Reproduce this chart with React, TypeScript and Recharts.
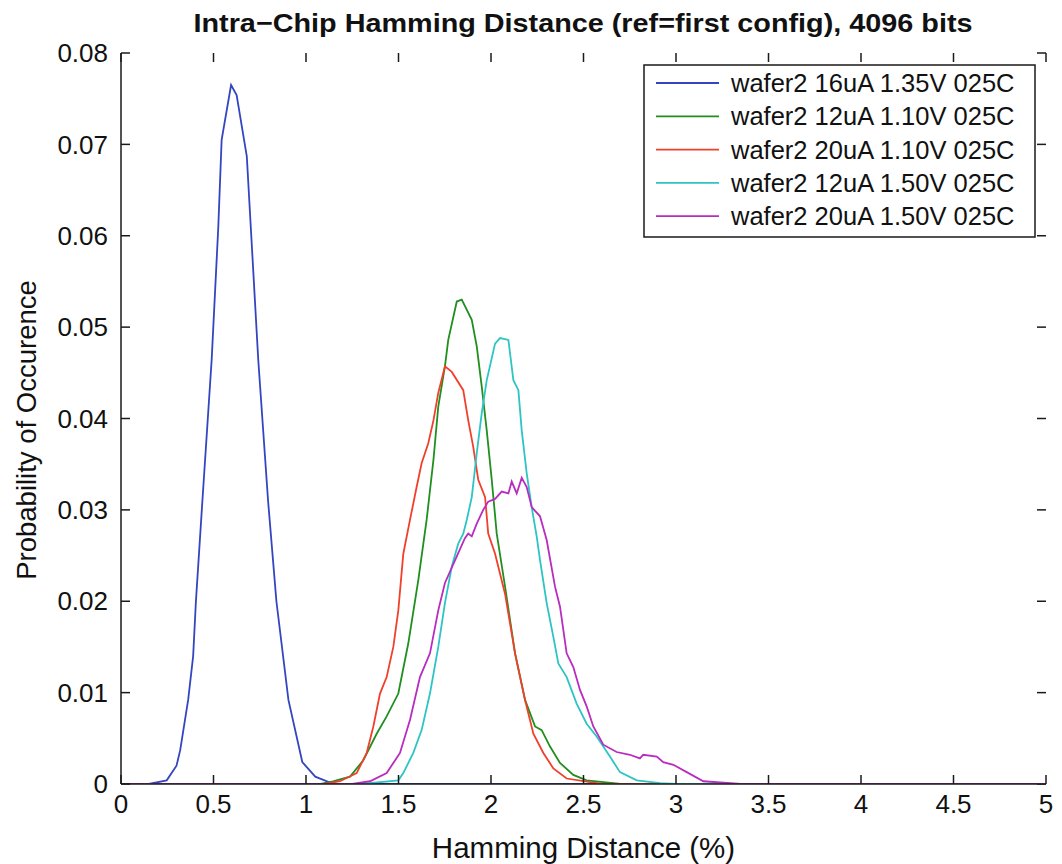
import React from "react";
import { LineChart, Line, XAxis, YAxis, Legend, ReferenceLine } from "recharts";

type P = { x: number; y: number };
const pts = (a: number[][]): P[] => a.map(([x, y]) => ({ x, y }));

const xTicks = [0, 0.5, 1, 1.5, 2, 2.5, 3, 3.5, 4, 4.5, 5];
const yTicks = [0, 0.01, 0.02, 0.03, 0.04, 0.05, 0.06, 0.07, 0.08];
const xDomain = [0, 5];
const yDomain = [0, 0.08];

const seriesNames = [
  "wafer2 16uA 1.35V 025C",
  "wafer2 12uA 1.10V 025C",
  "wafer2 20uA 1.10V 025C",
  "wafer2 12uA 1.50V 025C",
  "wafer2 20uA 1.50V 025C",
];
const seriesColors = ["#3346c0", "#1f8f1f", "#f0402c", "#2ec4c4", "#b82cc0"];

const blue16uA135 = pts([
  [0, 0], [0.15, 0], [0.247, 0.0004], [0.3, 0.002], [0.32, 0.0037], [0.363, 0.0092],
  [0.39, 0.014], [0.405, 0.02], [0.44, 0.031], [0.49, 0.0464], [0.526, 0.061],
  [0.544, 0.0705], [0.595, 0.0765], [0.625, 0.0754], [0.68, 0.0687], [0.742, 0.0464],
  [0.795, 0.031], [0.84, 0.02], [0.905, 0.0092], [0.98, 0.0024], [1.05, 0.0008],
  [1.15, 0], [5, 0],
]);

const green12uA110 = pts([
  [0, 0], [1.08, 0], [1.146, 0.0003], [1.238, 0.0008], [1.31, 0.0026], [1.382, 0.0055],
  [1.436, 0.0074], [1.499, 0.0099], [1.553, 0.0154], [1.607, 0.0223], [1.652, 0.0289],
  [1.689, 0.0355], [1.715, 0.0413], [1.751, 0.0457], [1.769, 0.0486], [1.815, 0.0528],
  [1.842, 0.053], [1.896, 0.0508], [1.923, 0.0479], [1.95, 0.0435], [1.977, 0.0387],
  [2.004, 0.0333], [2.031, 0.0274], [2.076, 0.0216], [2.13, 0.0143], [2.184, 0.0092],
  [2.238, 0.0063], [2.274, 0.0059], [2.319, 0.0041], [2.373, 0.0023], [2.445, 0.001],
  [2.517, 0.0004], [2.7, 0], [5, 0],
]);

const red20uA110 = pts([
  [0, 0], [1.1, 0], [1.184, 0.0003], [1.274, 0.0012], [1.328, 0.0034], [1.364, 0.0063],
  [1.4, 0.0099], [1.436, 0.0117], [1.472, 0.015], [1.499, 0.019], [1.526, 0.0252],
  [1.562, 0.0289], [1.598, 0.0325], [1.625, 0.0351], [1.661, 0.0373], [1.689, 0.0398],
  [1.715, 0.0428], [1.751, 0.0457], [1.788, 0.0451], [1.85, 0.0431], [1.877, 0.0398],
  [1.904, 0.0369], [1.931, 0.0333], [1.968, 0.0314], [1.985, 0.0274], [2.022, 0.0252],
  [2.076, 0.0208], [2.13, 0.0143], [2.184, 0.0092], [2.229, 0.0055], [2.283, 0.0034],
  [2.337, 0.0017], [2.409, 0.0006], [2.6, 0], [5, 0],
]);

const cyan12uA150 = pts([
  [0, 0], [1.3, 0], [1.499, 0.0004], [1.526, 0.0012], [1.58, 0.0034], [1.625, 0.0059],
  [1.67, 0.0099], [1.715, 0.015], [1.751, 0.0198], [1.788, 0.0238], [1.823, 0.0263],
  [1.85, 0.0274], [1.869, 0.0289], [1.896, 0.0314], [1.923, 0.0362], [1.95, 0.0406],
  [1.977, 0.0442], [2.022, 0.0482], [2.049, 0.0488], [2.094, 0.0486], [2.121, 0.0442],
  [2.148, 0.0431], [2.166, 0.0387], [2.193, 0.034], [2.22, 0.0303], [2.247, 0.0271],
  [2.265, 0.0245], [2.301, 0.0198], [2.337, 0.0161], [2.364, 0.0132], [2.409, 0.0117],
  [2.463, 0.0088], [2.517, 0.0066], [2.571, 0.0052], [2.643, 0.003], [2.697, 0.0013],
  [2.788, 0.0004], [2.914, 0.0001], [3.0, 0], [5, 0],
]);

const magenta20uA150 = pts([
  [0, 0], [1.25, 0], [1.346, 0.0003], [1.436, 0.0012], [1.508, 0.0034], [1.562, 0.007],
  [1.616, 0.0117], [1.67, 0.0143], [1.715, 0.019], [1.751, 0.022], [1.815, 0.0249],
  [1.859, 0.0269], [1.877, 0.0274], [1.896, 0.0271], [1.923, 0.0285], [1.958, 0.03],
  [1.985, 0.0309], [2.022, 0.0312], [2.058, 0.032], [2.094, 0.0318], [2.112, 0.0331],
  [2.139, 0.0318], [2.166, 0.0335], [2.193, 0.0325], [2.22, 0.0303], [2.265, 0.0293],
  [2.301, 0.0267], [2.346, 0.0216], [2.373, 0.0194], [2.409, 0.0143], [2.445, 0.0128],
  [2.481, 0.0103], [2.517, 0.0085], [2.553, 0.0063], [2.607, 0.0043], [2.679, 0.0035],
  [2.751, 0.0032], [2.805, 0.0028], [2.823, 0.0032], [2.896, 0.003], [2.931, 0.0024],
  [2.986, 0.0021], [3.058, 0.0013], [3.148, 0.0003], [3.35, 0], [5, 0],
]);

const seriesData = [blue16uA135, green12uA110, red20uA110, cyan12uA150, magenta20uA150];

const FONT = "'Liberation Sans', Arial, Helvetica, sans-serif";
const AXIS = "#1a1a1a";
const TICK_FS = 26;
const TICK_PX = 9;
// chart geometry
const W = 1062;
const H = 864;
const M = { top: 53, right: 16, bottom: 6, left: 21 };
const Y_AXIS_W = 100;
const X_AXIS_H = 74;
const PLOT_L = M.left + Y_AXIS_W;
const PLOT_R = W - M.right;
const PLOT_T = M.top;
const PLOT_B = H - M.bottom - X_AXIS_H;
// inward tick-mark length, as a fraction of each axis span
const TICK_FRAC_X = TICK_PX / (PLOT_R - PLOT_L);
const TICK_FRAC_Y = TICK_PX / (PLOT_B - PLOT_T);

const renderLegend = () => (
  <svg width={393} height={174} style={{ display: "block" }}>
    <rect x={1} y={1} width={391} height={172} fill="#fff" stroke={AXIS} strokeWidth={1.5} />
    {seriesNames.map((n, i) => {
      const cy = 19 + i * 33.3;
      return (
        <g key={n}>
          <line x1={13} x2={76} y1={cy} y2={cy} stroke={seriesColors[i]} strokeWidth={1.8} />
          <text x={88} y={cy} dy="0.35em" fontFamily={FONT} fontSize={25.5} fill="#111">
            {n}
          </text>
        </g>
      );
    })}
  </svg>
);

export default function App() {
  const xs = xDomain[1] - xDomain[0];
  const ys = yDomain[1] - yDomain[0];
  const tx = xs * TICK_FRAC_X;
  const ty = ys * TICK_FRAC_Y;
  const sx = (v: number) => PLOT_L + ((v - xDomain[0]) / xs) * (PLOT_R - PLOT_L);
  const sy = (v: number) => PLOT_B - ((v - yDomain[0]) / ys) * (PLOT_B - PLOT_T);

  const marks: React.ReactNode[] = [];
  xTicks.forEach((t) => {
    marks.push(
      <ReferenceLine key={`xt${t}`} xAxisId="b" yAxisId="l" ifOverflow="visible"
        segment={[{ x: t, y: yDomain[1] }, { x: t, y: yDomain[1] - ty }]}
        stroke={AXIS} strokeWidth={1.5} />
    );
  });
  yTicks.forEach((t) => {
    marks.push(
      <ReferenceLine key={`yr${t}`} xAxisId="b" yAxisId="l" ifOverflow="visible"
        segment={[{ x: xDomain[1], y: t }, { x: xDomain[1] - tx, y: t }]}
        stroke={AXIS} strokeWidth={1.5} />
    );
  });

  return (
    <div style={{ position: "absolute", left: 0, top: 0, width: W, height: H, background: "#fff" }}>
      <LineChart width={W} height={H} margin={M} style={{ fontFamily: FONT }}>
        <XAxis
          xAxisId="b"
          type="number"
          dataKey="x"
          domain={xDomain}
          ticks={xTicks}
          allowDataOverflow
          height={X_AXIS_H}
          stroke={AXIS}
          strokeWidth={1.5}
          tickLine={false}
          tickSize={0}
          tickMargin={11}
          interval={0}
          tick={{ fontSize: TICK_FS, fill: "#111", fontFamily: FONT }}
          label={{ value: "Hamming Distance (%)", position: "insideBottom", offset: 0, fontSize: 29.5, fill: "#111", fontFamily: FONT }}
        />
        <XAxis
          xAxisId="t"
          orientation="top"
          type="number"
          dataKey="x"
          domain={xDomain}
          ticks={xTicks}
          allowDataOverflow
          height={0}
          stroke={AXIS}
          strokeWidth={1.5}
          tickLine={false}
          tick={false}
        />
        <YAxis
          yAxisId="l"
          type="number"
          domain={yDomain}
          ticks={yTicks}
          allowDataOverflow
          width={Y_AXIS_W}
          stroke={AXIS}
          strokeWidth={1.5}
          tickLine={false}
          tickSize={0}
          tickMargin={13}
          interval={0}
          tick={{ fontSize: TICK_FS, fill: "#111", fontFamily: FONT }}
        />
        <YAxis
          yAxisId="r"
          orientation="right"
          type="number"
          domain={yDomain}
          ticks={yTicks}
          allowDataOverflow
          width={0}
          stroke={AXIS}
          strokeWidth={1.5}
          tickLine={false}
          tick={false}
        />
        <Legend
          layout="vertical"
          align="center"
          verticalAlign="middle"
          content={renderLegend}
          wrapperStyle={{ position: "absolute", left: 643, top: 64, width: 393, height: 174 }}
        />
        {marks}
        {seriesData.map((d, i) => (
          <Line
            key={seriesNames[i]}
            xAxisId="b"
            yAxisId="l"
            data={d}
            dataKey="y"
            name={seriesNames[i]}
            type="linear"
            stroke={seriesColors[i]}
            strokeWidth={1.8}
            dot={false}
            activeDot={false}
            isAnimationActive={false}
          />
        ))}
      </LineChart>
      <svg
        width={W}
        height={H}
        style={{ position: "absolute", left: 0, top: 0, pointerEvents: "none" }}
      >
        {xTicks.map((t) => (
          <line key={`bx${t}`} x1={sx(t)} x2={sx(t)} y1={PLOT_B} y2={PLOT_B - TICK_PX}
            stroke={AXIS} strokeWidth={1.5} />
        ))}
        {yTicks.map((t) => (
          <line key={`ly${t}`} x1={PLOT_L} x2={PLOT_L + TICK_PX} y1={sy(t)} y2={sy(t)}
            stroke={AXIS} strokeWidth={1.5} />
        ))}
        <text
          x={583}
          y={32}
          textAnchor="middle"
          fontFamily={FONT}
          fontWeight="bold"
          fontSize={26}
          fill="#111"
          textLength={779}
          lengthAdjust="spacingAndGlyphs"
        >
          Intra−Chip Hamming Distance (ref=first config), 4096 bits
        </text>
        <text
          transform="rotate(-90)"
          x={-430}
          y={36}
          textAnchor="middle"
          fontFamily={FONT}
          fontSize={27.5}
          fill="#111"
        >
          Probability of Occurence
        </text>
      </svg>
    </div>
  );
}
